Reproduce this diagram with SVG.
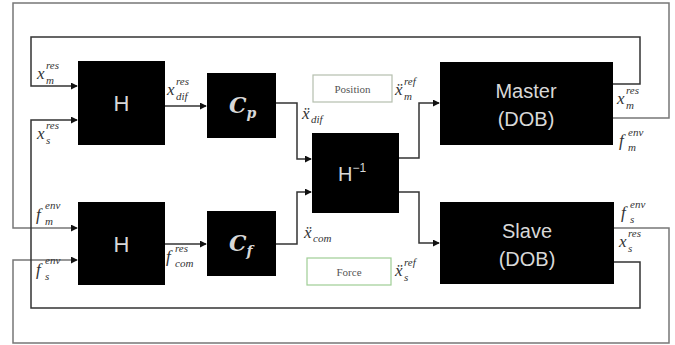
<svg xmlns="http://www.w3.org/2000/svg" width="675" height="345" viewBox="0 0 675 345">
<style>
.blk{fill:#000}
.bt{font-family:"Liberation Sans",Arial,sans-serif;fill:#d8d8d8;text-anchor:middle}
.ct{font-family:"DejaVu Serif","Liberation Serif",serif;font-style:italic;font-weight:bold;fill:#d8d8d8}
.lb{font-family:"Liberation Serif","DejaVu Serif",serif;font-style:italic;fill:#333;font-size:17px}
.sm{font-family:"Liberation Serif","DejaVu Serif",serif;font-style:italic;fill:#333;font-size:11px}
.in{fill:none;stroke:#333;stroke-width:1.5}
.out{fill:none;stroke:#777;stroke-width:1.5}
.lbox{fill:#fff;stroke-width:1.2}
.lt{font-family:"Liberation Serif",serif;font-size:11px;fill:#555;text-anchor:middle}
</style>
<defs>
<marker id="ar" viewBox="0 0 8 8" refX="7" refY="4" markerWidth="7" markerHeight="7" markerUnits="userSpaceOnUse" orient="auto">
<path d="M0,0 L8,4 L0,8 z" fill="#111"/>
</marker>
</defs>
<rect width="675" height="345" fill="#fff"/>
<g id="connectors">
<path class="in" d="M613,84 H640 V37 H31 V86 H77" marker-end="url(#ar)"/>
<path class="out" d="M613,118 H669 V3 H13 V228 H77" marker-end="url(#ar)"/>
<path class="out" d="M614,228 H669 V343 H13 V260 H77" marker-end="url(#ar)"/>
<path class="in" d="M614,262 H640 V308 H31 V120 H77" marker-end="url(#ar)"/>
<path class="in" d="M165,106 H206" marker-end="url(#ar)"/>
<path class="in" d="M276,103 H297 V159 H311" marker-end="url(#ar)"/>
<path class="in" d="M165,244 H206" marker-end="url(#ar)"/>
<path class="in" d="M276,244 H297 V192 H311" marker-end="url(#ar)"/>
<path class="in" d="M399,158 H419 V103 H439" marker-end="url(#ar)"/>
<path class="in" d="M399,192 H419 V243 H439" marker-end="url(#ar)"/>
</g>
<g id="H1"><rect class="blk" x="78" y="61" width="87" height="84"/><text class="bt" x="121.5" y="111" font-size="22">H</text></g>
<g id="Cp"><rect class="blk" x="207" y="73" width="69" height="65"/><text class="ct" x="229" y="113" font-size="22">C<tspan font-size="14" dy="5">p</tspan></text></g>
<g id="H2"><rect class="blk" x="78" y="202" width="87" height="83"/><text class="bt" x="121.5" y="252" font-size="22">H</text></g>
<g id="Cf"><rect class="blk" x="207" y="211" width="69" height="65"/><text class="ct" x="229" y="251" font-size="22">C<tspan font-size="14" dy="5">f</tspan></text></g>
<g id="Hinv"><rect class="blk" x="312" y="133" width="87" height="80"/><text class="bt" x="352" y="181" font-size="20">H<tspan font-size="12" dy="-9">−1</tspan></text></g>
<g id="Master"><rect class="blk" x="440" y="62" width="173" height="83"/><text class="bt" x="526" y="98" font-size="20">Master</text><text class="bt" x="526" y="126" font-size="20">(DOB)</text></g>
<g id="Slave"><rect class="blk" x="440" y="202" width="174" height="82"/><text class="bt" x="527" y="238" font-size="20">Slave</text><text class="bt" x="527" y="266" font-size="20">(DOB)</text></g>
<g id="Position"><rect class="lbox" x="313" y="75" width="79" height="27" stroke="#b5bfae"/><text class="lt" x="352.5" y="93">Position</text></g>
<g id="Force"><rect class="lbox" x="307" y="258" width="84" height="27" stroke="#9fce95"/><text class="lt" x="349" y="276">Force</text></g>
<g id="labels">
<text class="lb" x="37" y="79">x</text><text class="sm" x="46" y="69">res</text><text class="sm" x="46" y="84">m</text>
<text class="lb" x="37" y="139">x</text><text class="sm" x="46" y="129">res</text><text class="sm" x="46" y="144">s</text>
<text class="lb" x="167" y="95">x</text><text class="sm" x="176" y="85">res</text><text class="sm" x="176" y="100">dif</text>
<text class="lb" x="302" y="119">ẍ</text><text class="sm" x="311" y="123">dif</text>
<text class="lb" x="36" y="220">f</text><text class="sm" x="45" y="209">env</text><text class="sm" x="45" y="225">m</text>
<text class="lb" x="36" y="275">f</text><text class="sm" x="45" y="264">env</text><text class="sm" x="45" y="280">s</text>
<text class="lb" x="166" y="262">f</text><text class="sm" x="175" y="252">res</text><text class="sm" x="175" y="267">com</text>
<text class="lb" x="304" y="238">ẍ</text><text class="sm" x="313" y="242">com</text>
<text class="lb" x="395" y="95">ẍ</text><text class="sm" x="404" y="85">ref</text><text class="sm" x="404" y="100">m</text>
<text class="lb" x="395" y="276">ẍ</text><text class="sm" x="404" y="266">ref</text><text class="sm" x="404" y="281">s</text>
<text class="lb" x="617" y="104">x</text><text class="sm" x="626" y="94">res</text><text class="sm" x="626" y="109">m</text>
<text class="lb" x="619" y="146">f</text><text class="sm" x="628" y="136">env</text><text class="sm" x="628" y="151">m</text>
<text class="lb" x="621" y="218">f</text><text class="sm" x="630" y="208">env</text><text class="sm" x="630" y="223">s</text>
<text class="lb" x="619" y="247">x</text><text class="sm" x="628" y="237">res</text><text class="sm" x="628" y="252">s</text>
</g>
</svg>
